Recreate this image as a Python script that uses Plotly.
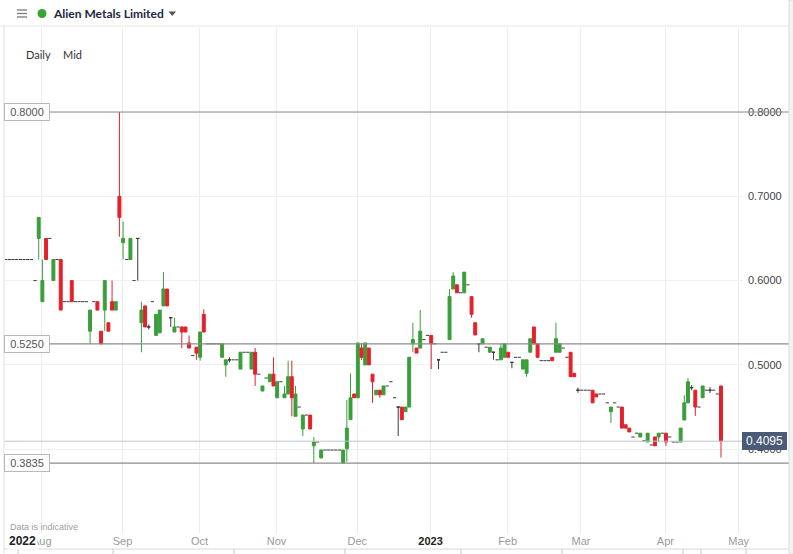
import pandas as pd
import plotly.graph_objects as go

# ---------------- data ----------------
holidays = ["2022-08-29", "2022-09-19", "2022-12-26", "2022-12-27", "2023-01-02"]
first_day = "2022-07-18"
last_day = "2023-04-24"

open_ = [
    .625, .625, .625, .625, .625, .625, .625, .625, .600, .650,
    .575, .650, .650, .600, .625, .625, .575, .575, .600, .575,
    .575, .575, .575, .540, .575, .575, .540, .565, .550, .575,
    .565, .700, .645, .625, .625, .600, .650, .550, .570, .545,
    .575, .535, .538, .570, .590, .556, .539, .545, .545, .545,
    .526, .511, .521, .509, .560, .525, .525, .525, .525, .509,
    .500, .506, .506, .506, .495, .515, .515, .495, .515, .489,
    .469, .4845, .480, .489, .461, .480, .461, .4655, .486, .439,
    .450, .424, .4405, .4405, .404, .4085, .3896, .399, .399, .399,
    .399, .399, .3835, .4005, .435, .4655, .461, .520, .500, .520,
    .489, .4645, .470, .4645, .475, .480, .461, .450, .450, .4445,
    .450, .525, .520, .520, .530, .535, .535, .525, .506, .515,
    .515, .530, .590, .595, .5855, .5855, .595, .581, .550, .525,
    .525, .521, .515, .515, .506, .506, .509, .515, .503, .509,
    .509, .495, .490, .515, .545, .525, .505, .505, .505, .509,
    .515, .515, .520, .509, .515, .490, .470, .470, .470, .470,
    .470, .4655, .4655, .4655, .455, .4445, .455, .450, .450, .429,
    .425, .4145, .419, .4145, .410, .4085, .405, .4145, .4145, .419,
    .419, .4145, .4085, .4085, .4085, .4346, .455, .473, .470, .450,
    .461, .470, .470, .470, .4655, .475,
]
high = [
    .625, .625, .625, .625, .625, .625, .625, .625, .600, .675,
    .625, .650, .650, .625, .625, .625, .575, .575, .600, .575,
    .575, .575, .575, .565, .575, .575, .540, .600, .550, .600,
    .575, .800, .670, .625, .650, .600, .650, .575, .570, .548,
    .575, .560, .565, .610, .590, .556, .556, .545, .545, .545,
    .535, .511, .521, .539, .566, .525, .525, .525, .525, .525,
    .506, .509, .506, .506, .515, .515, .515, .515, .520, .489,
    .475, .4845, .489, .509, .480, .480, .475, .505, .505, .475,
    .450, .4405, .4405, .4405, .4145, .4085, .399, .399, .399, .399,
    .399, .399, .399, .4584, .490, .4655, .526, .526, .526, .520,
    .489, .470, .470, .475, .475, .480, .461, .450, .450, .450,
    .509, .550, .520, .565, .530, .535, .535, .525, .506, .515,
    .515, .590, .610, .595, .5855, .610, .595, .581, .550, .525,
    .531, .521, .521, .515, .506, .525, .525, .515, .503, .509,
    .509, .506, .506, .531, .545, .525, .505, .505, .505, .509,
    .550, .525, .520, .509, .515, .490, .473, .470, .470, .470,
    .470, .4655, .4655, .4655, .455, .450, .455, .450, .450, .429,
    .425, .4145, .419, .419, .410, .419, .405, .4145, .419, .419,
    .419, .4145, .4085, .4085, .425, .464, .4845, .476, .470, .450,
    .475, .470, .4737, .470, .4655, .475,
]
low = [
    .625, .625, .625, .625, .625, .625, .625, .625, .600, .625,
    .575, .625, .650, .600, .625, .565, .575, .575, .575, .575,
    .575, .575, .575, .525, .575, .565, .525, .540, .540, .565,
    .565, .652, .625, .625, .625, .600, .600, .515, .545, .542,
    .575, .535, .538, .570, .570, .545, .539, .545, .520, .539,
    .520, .511, .506, .505, .539, .525, .525, .525, .525, .509,
    .486, .503, .506, .506, .495, .515, .515, .495, .475, .489,
    .469, .4845, .480, .475, .461, .480, .461, .4655, .439, .439,
    .450, .4157, .4405, .424, .3835, .4085, .3896, .399, .399, .399,
    .399, .399, .3835, .385, .435, .461, .461, .506, .500, .500,
    .455, .4645, .461, .4645, .475, .480, .461, .4157, .435, .4445,
    .450, .515, .514, .520, .530, .535, .495, .525, .495, .515,
    .515, .530, .590, .5855, .5855, .5855, .595, .556, .5355, .515,
    .525, .521, .515, .506, .506, .506, .509, .509, .496, .509,
    .509, .495, .486, .515, .525, .509, .505, .505, .505, .505,
    .515, .515, .520, .509, .486, .486, .467, .470, .470, .470,
    .455, .462, .4655, .4655, .455, .431, .455, .450, .425, .425,
    .4205, .4145, .419, .4145, .410, .4085, .405, .404, .4085, .419,
    .404, .4145, .4085, .4085, .4085, .4346, .455, .470, .4395, .450,
    .461, .470, .4666, .470, .4655, .390,
]
close = [
    .625, .625, .625, .625, .625, .625, .625, .625, .600, .675,
    .600, .625, .650, .625, .625, .565, .575, .575, .575, .575,
    .575, .575, .575, .565, .575, .565, .525, .600, .540, .565,
    .575, .675, .650, .625, .650, .600, .650, .565, .545, .545,
    .575, .560, .565, .590, .570, .556, .545, .545, .539, .539,
    .520, .511, .514, .539, .539, .525, .525, .525, .525, .525,
    .506, .506, .506, .506, .515, .515, .515, .515, .489, .489,
    .475, .4845, .489, .475, .480, .480, .4655, .486, .461, .4655,
    .450, .4405, .4405, .424, .4085, .4085, .399, .399, .399, .399,
    .399, .399, .399, .425, .461, .461, .526, .509, .526, .500,
    .480, .470, .4645, .475, .475, .480, .461, .450, .435, .450,
    .509, .530, .514, .540, .530, .535, .525, .525, .506, .515,
    .515, .581, .6054, .5855, .5855, .610, .595, .560, .5355, .525,
    .531, .521, .521, .515, .506, .520, .525, .509, .503, .509,
    .509, .506, .506, .531, .525, .509, .505, .505, .505, .505,
    .531, .525, .520, .509, .486, .486, .470, .470, .470, .470,
    .455, .462, .4655, .4655, .455, .450, .455, .450, .425, .425,
    .4205, .4145, .419, .419, .410, .419, .405, .404, .419, .419,
    .4085, .4145, .4085, .4085, .425, .455, .480, .473, .450, .450,
    .475, .470, .470, .470, .4655, .4095,
]

level_lines = [0.8000, 0.5250, 0.3835]
last_price = 0.4095
y_ticks = [0.4, 0.5, 0.6, 0.7, 0.8]
month_ticks = ["2022-08-01", "2022-09-01", "2022-10-03", "2022-11-01", "2022-12-01",
               "2023-01-03", "2023-02-01", "2023-03-01", "2023-04-03", "2023-05-01"]
month_labels = ["Aug", "Sep", "Oct", "Nov", "Dec",
                "<span style='color:#222222'><b>2023</b></span>", "Feb", "Mar", "Apr", "May"]

# trading calendar (weekdays minus UK holidays), candles at midday
days = [d for d in pd.bdate_range(first_day, last_day) if d.strftime("%Y-%m-%d") not in holidays]
dates = [d + pd.Timedelta(hours=12) for d in days]
n = len(dates)
assert n == len(open_) == len(high) == len(low) == len(close), (n, len(open_), len(high), len(low), len(close))

GREEN = "#3a9e3a"
RED = "#e4212b"
FLAT = "#3a3a3a"

fig = go.Figure()


def add_candles(idx, color):
    fig.add_trace(go.Candlestick(
        x=[dates[i] for i in idx],
        open=[open_[i] for i in idx], high=[high[i] for i in idx],
        low=[low[i] for i in idx], close=[close[i] for i in idx],
        increasing=dict(line=dict(color=color, width=1), fillcolor=color),
        decreasing=dict(line=dict(color=color, width=1), fillcolor=color),
        whiskerwidth=0, showlegend=False, hoverinfo="skip",
    ))


add_candles([i for i in range(n) if close[i] > open_[i]], GREEN)
add_candles([i for i in range(n) if close[i] < open_[i]], RED)
# dojis with a range
add_candles([i for i in range(n) if close[i] == open_[i] and high[i] != low[i]], FLAT)
# fully flat days drawn as short dashes
flat_idx = [i for i in range(n) if high[i] == low[i]]
fig.add_trace(go.Scatter(
    x=[dates[i] for i in flat_idx], y=[close[i] for i in flat_idx],
    mode="markers", marker=dict(symbol="line-ew", size=2.3, line=dict(color=FLAT, width=1)),
    showlegend=False, hoverinfo="skip",
))

# ---------------- layout ----------------
PL, PR, PT, PB = 5, 743, 28, 533
PW, PH = PR - PL, PB - PT


def px(X):
    return (X - PL) / PW


def py(Y):
    return (PB - Y) / PH


shapes = []
for v in level_lines:
    shapes.append(dict(type="line", xref="paper", yref="y", x0=0, x1=px(789), y0=v, y1=v,
                       line=dict(color="#8c8c8c", width=1.2), layer="above"))
shapes.append(dict(type="line", xref="paper", yref="y", x0=0, x1=1, y0=last_price, y1=last_price,
                   line=dict(color="#bcc4d2", width=1), layer="above"))
# frame / header decorations
shapes += [
    dict(type="line", xref="paper", yref="paper", x0=px(0), x1=px(793), y0=py(26), y1=py(26),
         line=dict(color="#e4e4e4", width=1)),
    dict(type="line", xref="paper", yref="paper", x0=px(4), x1=px(4), y0=py(26), y1=py(554),
         line=dict(color="#e0e0e0", width=1)),
    dict(type="rect", xref="paper", yref="paper", x0=px(789), x1=px(794), y0=py(0), y1=py(554),
         fillcolor="#f3f3f3", line=dict(color="#dddddd", width=1)),
    dict(type="line", xref="paper", yref="paper", x0=px(4), x1=px(789), y0=py(549), y1=py(549),
         line=dict(color="#d8d8d8", width=1)),
]
for X in [18, 113, 234, 345, 461, 562, 683, 701, 746]:
    shapes.append(dict(type="line", xref="paper", yref="paper", x0=px(X), x1=px(X), y0=py(549), y1=py(554),
                       line=dict(color="#c8c8c8", width=1)))
for Y in [10, 13.5, 17]:
    shapes.append(dict(type="line", xref="paper", yref="paper", x0=px(17), x1=px(27), y0=py(Y), y1=py(Y),
                       line=dict(color="#808080", width=1.4)))
shapes.append(dict(type="circle", xref="paper", yref="paper", x0=px(37.5), x1=px(46.5), y0=py(9), y1=py(18),
                   fillcolor="#36a536", line=dict(color="#36a536", width=0)))
shapes.append(dict(type="path", xref="paper", yref="paper",
                   path=f"M {px(168.5)},{py(11.5)} L {px(176)},{py(11.5)} L {px(172.25)},{py(16)} Z",
                   fillcolor="#555555", line=dict(width=0)))

FONT = "Liberation Sans"
annotations = []
for v in level_lines:
    annotations.append(dict(xref="paper", yref="y", x=px(4), y=v, xanchor="left", yanchor="middle",
                            text=f"{v:.4f}", showarrow=False, bgcolor="white", bordercolor="#b8b8b8",
                            borderwidth=1, borderpad=2, width=40, height=12,
                            font=dict(family=FONT, size=11, color="#555555")))
annotations.append(dict(xref="paper", yref="y", x=px(742), y=last_price, xanchor="left", yanchor="middle",
                        text=f"{last_price:.4f}", showarrow=False, bgcolor="#4b5a76", bordercolor="#4b5a76",
                        borderwidth=1, borderpad=2, width=39, height=12,
                        font=dict(family=FONT, size=12, color="white")))
annotations += [
    dict(xref="paper", yref="paper", x=px(51), y=py(13.5), xanchor="left", yanchor="middle",
         text="<b>Alien Metals Limited</b>", showarrow=False,
         font=dict(family="Lato", size=12, color="#1c2742")),
    dict(xref="paper", yref="paper", x=px(24), y=py(54), xanchor="left", yanchor="middle",
         text="Daily", showarrow=False, font=dict(family="Lato", size=11, color="#333333")),
    dict(xref="paper", yref="paper", x=px(61), y=py(54), xanchor="left", yanchor="middle",
         text="Mid", showarrow=False, font=dict(family="Lato", size=11, color="#333333")),
    dict(xref="paper", yref="paper", x=px(8), y=py(527), xanchor="left", yanchor="middle",
         text="Data is indicative", showarrow=False, font=dict(family=FONT, size=9, color="#a0a0a0")),
    dict(xref="paper", yref="paper", x=px(7), y=py(541), xanchor="left", yanchor="middle",
         text="<b>2022</b>", showarrow=False, bgcolor="white", borderpad=1,
         font=dict(family=FONT, size=12, color="#222222")),
]

fig.update_layout(
    width=793, height=554,
    margin=dict(l=PL, r=793 - PR, t=PT, b=554 - PB),
    paper_bgcolor="white", plot_bgcolor="white",
    showlegend=False, boxgap=0.2, boxgroupgap=0,
    shapes=shapes, annotations=annotations,
    xaxis=dict(
        type="date",
        range=["2022-07-18 07:26", "2023-05-02 12:00"],
        rangebreaks=[dict(bounds=["sat", "mon"]), dict(values=holidays)],
        rangeslider=dict(visible=False),
        tickmode="array",
        tickvals=[pd.Timestamp(t) + pd.Timedelta(hours=8) for t in month_ticks],
        ticktext=month_labels,
        showgrid=True, gridcolor="#ececec", gridwidth=1,
        ticks="", showline=False, zeroline=False,
        tickfont=dict(family=FONT, size=11, color="#9a9a9a"),
    ),
    yaxis=dict(
        side="right", range=[0.30059, 0.89964],
        tickmode="array", tickvals=y_ticks, ticktext=[f"{v:.4f}" for v in y_ticks],
        showgrid=True, gridcolor="#f0f0f0", gridwidth=1,
        ticks="", showline=False, zeroline=False,
        ticklabelstandoff=4,
        tickfont=dict(family=FONT, size=11, color="#444444"),
    ),
)

fig.write_html("out.html", config=dict(displayModeBar=False),
               post_script="document.body.style.margin='0';document.body.style.overflow='hidden';")
